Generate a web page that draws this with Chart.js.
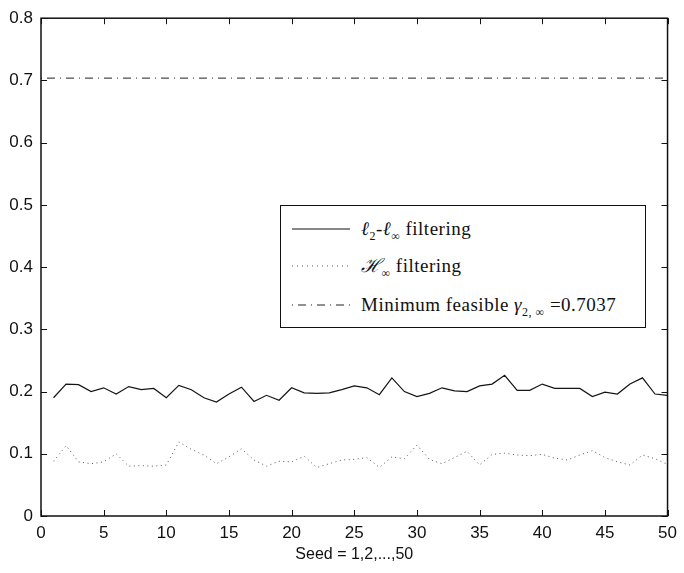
<!DOCTYPE html>
<html>
<head>
<meta charset="utf-8">
<script src="https://cdn.jsdelivr.net/npm/chart.js@4.4.1/dist/chart.umd.min.js"></script>
<style>
  html, body { margin: 0; padding: 0; background: #fff; }
  #wrap { position: relative; width: 684px; height: 573px; }
  #legend {
    position: absolute; left: 280px; top: 205px; width: 364px; height: 121px;
    border: 1px solid #111; background: #fff;
    font-family: "Liberation Serif", serif; font-size: 19px; color: #111;
  }
  #legend .row { position: absolute; left: 0; height: 20px; line-height: 20px; white-space: nowrap; }
  #legend svg { position: absolute; left: 11px; top: 0; }
  #legend .txt { position: absolute; left: 80px; top: 0; letter-spacing: 0.5px; }
  #legend i { font-family: "Liberation Serif", serif; }
  #legend sub { font-size: 12px; line-height: 0; }
</style>
</head>
<body>
<div id="wrap">
  <canvas id="myChart" width="684" height="573"></canvas>
  <div id="legend">
    <div class="row" style="top:13px">
      <svg width="60" height="20"><line x1="0" y1="10" x2="58" y2="10" stroke="#111" stroke-width="1.2"/></svg>
      <span class="txt"><i>ℓ</i><sub>2</sub>-<i>ℓ</i><sub>∞</sub> filtering</span>
    </div>
    <div class="row" style="top:50px">
      <svg width="60" height="20"><line x1="0" y1="10" x2="58" y2="10" stroke="#555" stroke-width="1" stroke-dasharray="1 4"/></svg>
      <span class="txt"><i>ℋ</i><sub>∞</sub> filtering</span>
    </div>
    <div class="row" style="top:89px">
      <svg width="60" height="20"><line x1="0" y1="10" x2="58" y2="10" stroke="#222" stroke-width="1" stroke-dasharray="1 5 8 5"/></svg>
      <span class="txt">Minimum feasible <i>γ</i><sub>2, ∞</sub> =0.7037</span>
    </div>
  </div>
</div>
<script>
var seeds = [1, 2, 3, 4, 5, 6, 7, 8, 9, 10,
  11, 12, 13, 14, 15, 16, 17, 18, 19, 20,
  21, 22, 23, 24, 25, 26, 27, 28, 29, 30,
  31, 32, 33, 34, 35, 36, 37, 38, 39, 40,
  41, 42, 43, 44, 45, 46, 47, 48, 49, 50];

// l2-linf filter
var l2linf = [0.190, 0.212, 0.211, 0.200, 0.206, 0.196, 0.208, 0.203, 0.205, 0.190,
  0.210, 0.203, 0.190, 0.183, 0.196, 0.207, 0.184, 0.194, 0.186, 0.206,
  0.198, 0.197, 0.198, 0.203, 0.209, 0.206, 0.195, 0.222, 0.200, 0.192,
  0.197, 0.206, 0.201, 0.200, 0.209, 0.212, 0.226, 0.202, 0.202, 0.212,
  0.205, 0.205, 0.205, 0.192, 0.199, 0.196, 0.212, 0.222, 0.196, 0.194];

// H-infinity filter
var hinf = [0.088, 0.113, 0.087, 0.084, 0.087, 0.100, 0.080, 0.081, 0.080, 0.082,
  0.119, 0.107, 0.098, 0.084, 0.095, 0.108, 0.090, 0.080, 0.088, 0.087,
  0.096, 0.078, 0.084, 0.090, 0.091, 0.094, 0.078, 0.095, 0.092, 0.114,
  0.091, 0.084, 0.094, 0.104, 0.082, 0.099, 0.101, 0.098, 0.097, 0.099,
  0.093, 0.090, 0.098, 0.105, 0.094, 0.087, 0.082, 0.098, 0.092, 0.083];

var gammaMin = 0.7037;
var gammaSpan = [0, 50];

var xTicks = [0, 5, 10, 15, 20, 25, 30, 35, 40, 45, 50];
var yTicks = [0, 0.1, 0.2, 0.3, 0.4, 0.5, 0.6, 0.7, 0.8];

function toPoints(xs, ys) {
  return xs.map(function (x, i) { return { x: x, y: ys[i] }; });
}

// box around the plot with ticks pointing inwards on all four sides
var boxTicks = {
  id: 'boxTicks',
  afterDraw: function (chart) {
    var c = chart.ctx, a = chart.chartArea;
    var xs = chart.scales.x, ys = chart.scales.y;
    var len = 6;
    c.save();
    c.strokeStyle = '#111';
    c.lineWidth = 1;
    c.beginPath();
    xTicks.forEach(function (v) {
      var px = Math.round(xs.getPixelForValue(v)) + 0.5;
      c.moveTo(px, a.bottom); c.lineTo(px, a.bottom - len);
      c.moveTo(px, a.top); c.lineTo(px, a.top + len);
    });
    yTicks.forEach(function (v) {
      var py = Math.round(ys.getPixelForValue(v)) + 0.5;
      c.moveTo(a.left, py); c.lineTo(a.left + len, py);
      c.moveTo(a.right, py); c.lineTo(a.right - len, py);
    });
    c.stroke();
    c.lineWidth = 1.5;
    c.strokeRect(a.left, a.top, a.right - a.left, a.bottom - a.top);
    c.restore();
  }
};

var ctx = document.getElementById('myChart');
var chart = new Chart(ctx, {
  type: 'line',
  data: {
    datasets: [
      {
        label: 'l2-linf filtering',
        data: toPoints(seeds, l2linf),
        borderColor: '#151515',
        borderWidth: 1.2,
        pointRadius: 0,
        tension: 0
      },
      {
        label: 'Hinf filtering',
        data: toPoints(seeds, hinf),
        borderColor: '#555',
        borderWidth: 1,
        borderDash: [1, 3.5],
        pointRadius: 0,
        tension: 0
      },
      {
        label: 'Minimum feasible gamma',
        data: toPoints(gammaSpan, [gammaMin, gammaMin]),
        borderColor: '#222',
        borderWidth: 1,
        borderDash: [1, 5, 8, 5],
        pointRadius: 0
      }
    ]
  },
  options: {
    responsive: false,
    animation: false,
    layout: { padding: { top: 16, right: 9, left: 0, bottom: 0 } },
    plugins: {
      legend: { display: false },
      tooltip: { enabled: false }
    },
    scales: {
      x: {
        type: 'linear',
        min: 0,
        max: 50,
        grid: { display: false, drawTicks: false },
        border: { display: false },
        afterBuildTicks: function (axis) {
          axis.ticks = xTicks.map(function (v) { return { value: v }; });
        },
        afterFit: function (axis) { axis.height = 57; },
        ticks: {
          padding: 7,
          color: '#111',
          font: { family: 'Liberation Sans', size: 17 }
        },
        title: {
          display: true,
          text: 'Seed = 1,2,...,50',
          color: '#111',
          padding: { top: 0, bottom: 9 },
          font: { family: 'Liberation Sans', size: 16 }
        }
      },
      y: {
        min: 0,
        max: 0.8,
        grid: { display: false, drawTicks: false },
        border: { display: false },
        afterBuildTicks: function (axis) {
          axis.ticks = yTicks.map(function (v) { return { value: v }; });
        },
        afterFit: function (axis) { axis.width = 41; },
        ticks: {
          padding: 8,
          color: '#111',
          font: { family: 'Liberation Sans', size: 17 },
          callback: function (v) { return v === 0 ? '0' : v.toFixed(1); }
        }
      }
    }
  },
  plugins: [boxTicks]
});
</script>
</body>
</html>
